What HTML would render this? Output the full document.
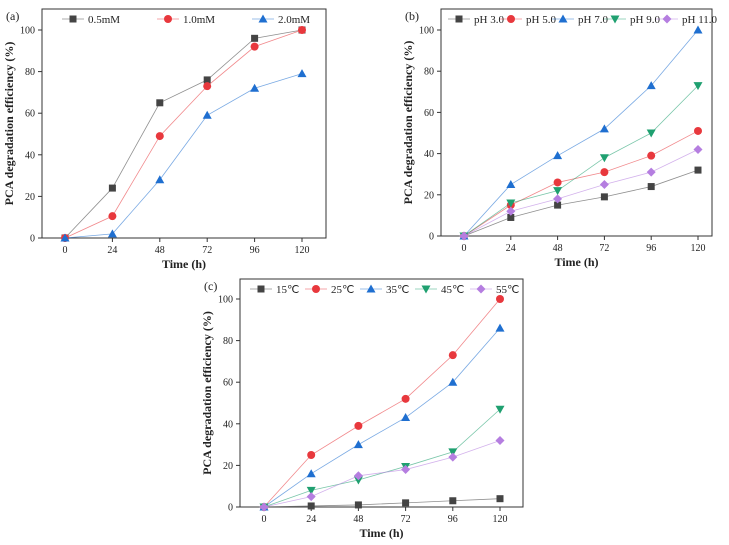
<!DOCTYPE html>
<html><head><meta charset="utf-8"><style>
body{margin:0;background:#fff;width:729px;height:540px;overflow:hidden}
svg text{font-family:"Liberation Serif",serif;fill:#222}
</style></head><body>
<svg id="fig" width="729" height="540" xmlns="http://www.w3.org/2000/svg"></svg>
<script>
const times=[0,24,48,72,96,120];
const yTicks=[0,20,40,60,80,100];
const aLabels=["0.5mM","1.0mM","2.0mM"];
const a05=[0,24,65,76,96,100];
const a10=[0,10.5,49,73,92,100];
const a20=[0,2,28,59,72,79];
const bLabels=["pH 3.0","pH 5.0","pH 7.0","pH 9.0","pH 11.0"];
const bpH3=[0,9,15,19,24,32];
const bpH5=[0,15,26,31,39,51];
const bpH7=[0,25,39,52,73,100];
const bpH9=[0,16,22,38,50,73];
const bpH11=[0,12,18,25,31,42];
const cLabels=["15℃","25℃","35℃","45℃","55℃"];
const c15=[0,0.5,1,2,3,4];
const c25=[0,25,39,52,73,100];
const c35=[0,16,30,43,60,86];
const c45=[0,8,13,19.5,26.5,47];
const c55=[0,5,15,18,24,32];

const NS="http://www.w3.org/2000/svg";
const svg=document.getElementById('fig');
const STY=[{c:'#444',m:'sq'},{c:'#e8383d',m:'ci'},{c:'#1f6fd0',m:'tu'},{c:'#1fa070',m:'td'},{c:'#b57ee0',m:'di'}];
function el(t,a,p){const e=document.createElementNS(NS,t);for(const k in a)e.setAttribute(k,a[k]);(p||svg).appendChild(e);return e;}
function marker(g,m,x,y,c){
 let e;
 if(m==='sq')e=el('rect',{x:x-3.5,y:y-3.5,width:7,height:7,fill:c},g);
 else if(m==='ci')e=el('circle',{cx:x,cy:y,r:4,fill:c},g);
 else if(m==='tu')e=el('polygon',{points:`${x},${y-4.5} ${x+4.5},${y+3.5} ${x-4.5},${y+3.5}`,fill:c},g);
 else if(m==='td')e=el('polygon',{points:`${x},${y+4.5} ${x+4.5},${y-3.5} ${x-4.5},${y-3.5}`,fill:c},g);
 else e=el('polygon',{points:`${x},${y-4.5} ${x+4.5},${y} ${x},${y+4.5} ${x-4.5},${y}`,fill:c},g);
 
 
}
function panel(id,P,series,labels,legX,legStep){
 const g=el('g',{});
 
 
 const sx=v=>P.x0+(v/120)*(P.x1-P.x0);
 const sy=v=>P.y0-(v/100)*(P.y0-P.y100);
 const fr=el('rect',{x:P.L,y:P.T,width:P.R-P.L,height:P.B-P.T,fill:'none',stroke:'#333','stroke-width':1},g);
 
 yTicks.forEach(v=>{const y=sy(v);
  el('line',{x1:P.L,x2:P.L-4,y1:y,y2:y,stroke:'#333'},g);
  const t=el('text',{x:P.L-7,y:y+3.5,'font-size':10,'text-anchor':'end'},g);t.textContent=v;
  });
 times.forEach(v=>{const x=sx(v);
  el('line',{x1:x,x2:x,y1:P.B,y2:P.B+4,stroke:'#333'},g);
  const t=el('text',{x:x,y:P.B+15,'font-size':10,'text-anchor':'middle'},g);t.textContent=v;
  });
 const xt=el('text',{x:(P.L+P.R)/2,y:P.B+30,'font-size':12,'font-weight':'bold','text-anchor':'middle'},g);xt.textContent='Time (h)';
 
 const yc=(P.T+P.B)/2;
 const yt=el('text',{x:0,y:0,'font-size':12,'font-weight':'bold','text-anchor':'middle',transform:`translate(${P.L-29},${yc}) rotate(-90)`},g);yt.textContent='PCA degradation efficiency (%)';
 
 const pl=el('text',{x:P.L-36,y:P.T+11,'font-size':12},g);pl.textContent='('+id+')';
 
 series.forEach((s,i)=>{const st=STY[i];
  const pts=times.map((t,j)=>sx(t)+','+sy(s[j])).join(' ');
  const ln=el('polyline',{points:pts,fill:'none',stroke:st.c,'stroke-width':0.8,'stroke-opacity':0.6},g);
  
  times.forEach((t,j)=>marker(g,st.m,sx(t),sy(s[j]),st.c));
  const lx=legX+i*legStep, ly=P.T+10;
  const lg=el('g',{},g);
  
  el('line',{x1:lx,x2:lx+22,y1:ly,y2:ly,stroke:st.c,'stroke-width':0.8,'stroke-opacity':0.6},lg);
  marker(lg,st.m,lx+11,ly,st.c);
  const tt=el('text',{x:lx+26,y:ly+4,'font-size':11},lg);tt.textContent=labels[i];
 });
}
panel('a',{L:42,R:326,T:9,B:238,x0:65,x1:302,y0:238,y100:30},[a05,a10,a20],aLabels,62,95);
panel('b',{L:441,R:712,T:9,B:236,x0:464,x1:698,y0:236,y100:30},[bpH3,bpH5,bpH7,bpH9,bpH11],bLabels,448,52);
panel('c',{L:240,R:523,T:279,B:507,x0:264,x1:500,y0:507,y100:299},[c15,c25,c35,c45,c55],cLabels,250,55);
</script>
</body></html>
